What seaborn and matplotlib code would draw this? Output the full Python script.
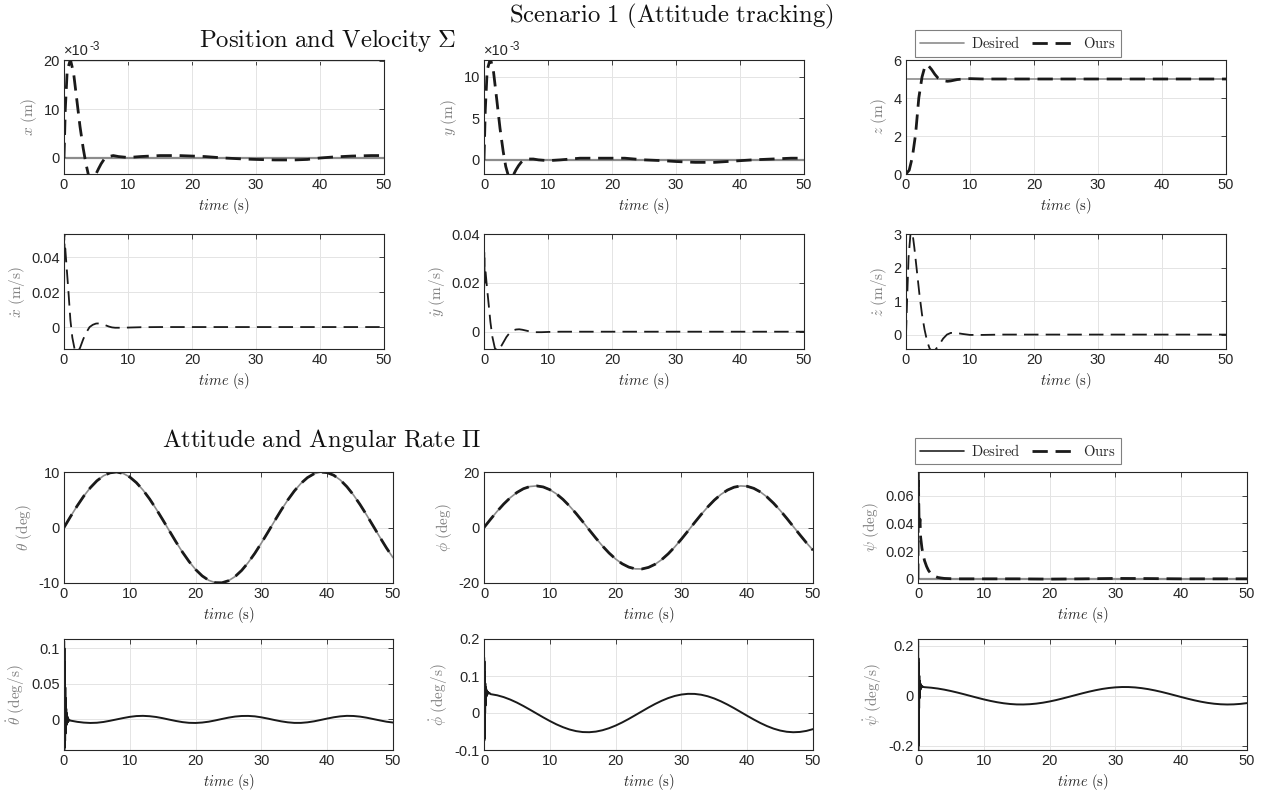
import matplotlib
matplotlib.use("Agg")
import matplotlib.pyplot as plt
from matplotlib.ticker import FuncFormatter
from matplotlib.lines import Line2D
import seaborn as sns

# ---------------- data ----------------
time_ticks = [0, 10, 20, 30, 40, 50]
t_const = [0, 50]

# Position
t_xy = [0, 0.2, 0.5, 1.0, 1.5, 2.0, 2.5, 3.0, 3.4, 3.8, 4.2, 4.6, 5.0, 5.4, 5.8, 6.3, 7.0, 7.7,
        8.5, 10, 12, 15, 18, 20, 22, 25, 28, 30, 33, 36, 38, 40, 42, 45, 48, 50]
x_des = [0, 0]
x_ours = [0, 0.010, 0.018, 0.0203, 0.0175, 0.012, 0.0065, 0.002, -0.0010, -0.0034, -0.0045, -0.0042,
          -0.0033, -0.0022, -0.0012, -0.0002, 0.0003, 0.0005, 0.0003, 0.0001, 0.0003, 0.0005, 0.0005,
          0.0004, 0.0003, 0.0000, -0.0002, -0.0003, -0.0004, -0.0004, -0.0003, 0.0000, 0.0002, 0.0004,
          0.0005, 0.0005]
y_des = [0, 0]
y_ours = [0, 0.006, 0.0108, 0.0122, 0.0105, 0.0072, 0.0038, 0.0010, -0.0008, -0.0019, -0.0023, -0.0018,
          -0.0012, -0.0007, -0.0003, 0.0000, 0.0001, 0.0001, 0.0000, -0.0001, 0.0000, 0.0002, 0.0002,
          0.0002, 0.0002, 0.0000, -0.0001, -0.0002, -0.0003, -0.0003, -0.0002, -0.0001, 0.0000, 0.0001,
          0.0002, 0.0002]
t_z = [0, 0.5, 1.0, 1.5, 2.0, 2.5, 3.0, 3.5, 4.0, 4.5, 5.0, 5.5, 6.0, 6.5, 7.0, 8.0, 9.0, 10, 12, 15,
       20, 25, 30, 35, 40, 45, 50]
z_des = [5, 5]
z_ours = [0, 0.2, 0.9, 2.1, 4.0, 5.1, 5.72, 5.7, 5.5, 5.25, 5.05, 4.95, 4.9, 4.88, 4.9, 4.97, 5.0, 5.02,
          5.0, 5.0, 5.0, 5.0, 5.0, 5.0, 5.0, 5.0, 5.0]

# Velocity
t_vel = [0, 0.05, 0.1, 0.2, 0.4, 0.7, 1.0, 1.3, 1.7, 2.1, 2.5, 3.0, 3.5, 4.0, 4.5, 5.0, 5.5, 6.0, 6.5,
         7.0, 7.5, 8.0, 9.0, 10, 12, 15, 20, 25, 30, 35, 40, 45, 50]
xdot_ours = [0, 0.055, 0.04, 0.045, 0.035, 0.02, 0.004, -0.006, -0.0135, -0.0145, -0.012, -0.007, -0.003,
             0.0000, 0.0013, 0.0020, 0.0021, 0.0017, 0.0010, 0.0003, -0.0002, -0.0004, -0.0004, -0.0003,
             -0.0001, 0, 0, 0, 0, 0, 0, 0, 0]
ydot_ours = [0, 0.033, 0.02, 0.026, 0.02, 0.012, 0.004, -0.002, -0.0068, -0.0078, -0.0068, -0.0045,
             -0.0022, -0.0005, 0.0005, 0.0009, 0.0010, 0.0008, 0.0005, 0.0002, -0.0001, -0.0002, -0.0002,
             -0.0001, 0, 0, 0, 0, 0, 0, 0, 0, 0]
t_zd = [0, 0.2, 0.4, 0.7, 1.0, 1.3, 1.7, 2.1, 2.5, 2.9, 3.3, 3.7, 4.1, 4.6, 5.2, 5.8, 6.4, 7.0, 7.8, 8.8,
        10, 12, 15, 20, 30, 40, 50]
zdot_ours = [0, 1.2, 2.3, 3.0, 3.05, 2.6, 1.9, 1.2, 0.6, 0.15, -0.2, -0.42, -0.5, -0.45, -0.3, -0.12, 0.0,
             0.05, 0.05, 0.02, -0.01, -0.01, 0, 0, 0, 0, 0]

# Attitude (deg), sampled every second
t_att = list(range(0, 51))
theta_des = [0, 1.99, 3.89, 5.65, 7.17, 8.41, 9.32, 9.85, 10.0, 9.74, 9.09, 8.08, 6.76, 5.16, 3.35, 1.41,
             -0.58, -2.56, -4.43, -6.12, -7.57, -8.72, -9.52, -9.94, -9.96, -9.59, -8.84, -7.73, -6.31,
             -4.65, -2.79, -0.83, 1.17, 3.12, 4.94, 6.57, 7.94, 8.99, 9.68, 9.99, 9.89, 9.41, 8.55, 7.34,
             5.85, 4.12, 2.23, 0.25, -1.74, -3.67, -5.44]
theta_ours = [0, 1.99, 3.89, 5.65, 7.17, 8.41, 9.32, 9.85, 10.0, 9.74, 9.09, 8.08, 6.76, 5.16, 3.35, 1.41,
              -0.58, -2.56, -4.43, -6.12, -7.57, -8.72, -9.52, -9.94, -9.96, -9.59, -8.84, -7.73, -6.31,
              -4.65, -2.79, -0.83, 1.17, 3.12, 4.94, 6.57, 7.94, 8.99, 9.68, 9.99, 9.89, 9.41, 8.55, 7.34,
              5.85, 4.12, 2.23, 0.25, -1.74, -3.67, -5.44]
phi_des = [0, 2.98, 5.84, 8.47, 10.76, 12.62, 13.98, 14.78, 14.99, 14.61, 13.64, 12.13, 10.13, 7.73, 5.03,
           2.12, -0.88, -3.83, -6.64, -9.18, -11.35, -13.07, -14.27, -14.91, -14.94, -14.38, -13.25,
           -11.59, -9.47, -6.97, -4.19, -1.25, 1.75, 4.67, 7.41, 9.86, 11.91, 13.48, 14.52, 14.98, 14.84,
           14.11, 12.82, 11.02, 8.77, 6.18, 3.34, 0.37, -2.61, -5.50, -8.16]
phi_ours = [0, 2.98, 5.84, 8.47, 10.76, 12.62, 13.98, 14.78, 14.99, 14.61, 13.64, 12.13, 10.13, 7.73, 5.03,
            2.12, -0.88, -3.83, -6.64, -9.18, -11.35, -13.07, -14.27, -14.91, -14.94, -14.38, -13.25,
            -11.59, -9.47, -6.97, -4.19, -1.25, 1.75, 4.67, 7.41, 9.86, 11.91, 13.48, 14.52, 14.98, 14.84,
            14.11, 12.82, 11.02, 8.77, 6.18, 3.34, 0.37, -2.61, -5.50, -8.16]
t_psi = [0, 0.05, 0.1, 0.15, 0.2, 0.3, 0.4, 0.6, 0.8, 1.0, 1.3, 1.6, 2.0, 2.5, 3.0, 3.5, 4, 5, 6, 8, 10,
         15, 20, 25, 30, 35, 40, 45, 50]
psi_des = [0, 0]
psi_ours = [0, 0.077, 0.06, 0.045, 0.038, 0.043, 0.03, 0.022, 0.017, 0.013, 0.009, 0.006, 0.0035, 0.002,
            0.001, 0.0006, 0.0003, 0.0001, 0, 0, 0, 0, -0.0002, 0, 0.0003, 0.0002, 0, 0, 0]

# Angular rates (deg/s): start-up transient then one sample per second
t_rate = [0.0, 0.02, 0.04, 0.06, 0.08, 0.10, 0.12, 0.14, 0.17, 0.20, 0.23, 0.26, 0.30, 0.34, 0.38, 0.42,
          0.47, 0.52, 0.58, 0.65, 0.75, 0.85] + list(range(1, 51))
thetadot = [0, 0.11, -0.043, 0.10, -0.04, 0.08, -0.035, 0.05, -0.03, 0.045, -0.02, 0.03, -0.012, 0.015,
            -0.008, 0.009, -0.005, 0.004, -0.004, 0.001, -0.002, -0.001,
            -0.0017, -0.0034, -0.0045, -0.0050, -0.0047, -0.0036, -0.0019, 0.0000, 0.0019, 0.0036, 0.0047,
            0.0050, 0.0045, 0.0034, 0.0017, -0.0003, -0.0022, -0.0038, -0.0048, -0.0050, -0.0044, -0.0032,
            -0.0014, 0.0006, 0.0025, 0.0040, 0.0048, 0.0049, 0.0043, 0.0029, 0.0011, -0.0009, -0.0027,
            -0.0041, -0.0049, -0.0049, -0.0041, -0.0027, -0.0008, 0.0012, 0.0030, 0.0043, 0.0050, 0.0048,
            0.0039, 0.0024, 0.0005, -0.0014, -0.0032, -0.0044]
phidot = [0, 0.15, -0.075, 0.14, -0.07, 0.11, -0.03, 0.10, 0.0, 0.08, 0.02, 0.07, 0.035, 0.065, 0.045,
          0.06, 0.05, 0.058, 0.052, 0.056, 0.053, 0.054,
          0.0510, 0.0479, 0.0429, 0.0362, 0.0281, 0.0188, 0.0088, -0.0015, -0.0118, -0.0216, -0.0306,
          -0.0383, -0.0446, -0.0490, -0.0515, -0.0519, -0.0503, -0.0466, -0.0411, -0.0340, -0.0255,
          -0.0160, -0.0058, 0.0045, 0.0148, 0.0244, 0.0330, 0.0404, 0.0461, 0.0499, 0.0518, 0.0516,
          0.0494, 0.0452, 0.0392, 0.0316, 0.0228, 0.0131, 0.0028, -0.0076, -0.0176, -0.0270, -0.0353,
          -0.0422, -0.0474, -0.0507, -0.0520, -0.0512, -0.0484, -0.0436]
psidot = [0, 0.22, -0.217, 0.15, -0.20, 0.13, -0.10, 0.10, -0.05, 0.08, -0.01, 0.06, 0.01, 0.05, 0.025,
          0.045, 0.03, 0.04, 0.035, 0.038, 0.036, 0.035,
          0.0343, 0.0322, 0.0289, 0.0244, 0.0189, 0.0127, 0.0060, -0.0010, -0.0079, -0.0146, -0.0206,
          -0.0258, -0.0300, -0.0330, -0.0347, -0.0349, -0.0338, -0.0314, -0.0277, -0.0229, -0.0172,
          -0.0107, -0.0039, 0.0030, 0.0099, 0.0164, 0.0222, 0.0272, 0.0310, 0.0336, 0.0349, 0.0348,
          0.0333, 0.0304, 0.0264, 0.0213, 0.0154, 0.0088, 0.0019, -0.0051, -0.0119, -0.0182, -0.0238,
          -0.0284, -0.0319, -0.0341, -0.0350, -0.0344, -0.0326, -0.0294]

# ---------------- style ----------------
sns.set_theme(style="white")
plt.rcParams["font.family"] = ["Liberation Sans", "DejaVu Sans"]
plt.rcParams["mathtext.fontset"] = "cm"
plt.rcParams["axes.unicode_minus"] = False

W, H = 1266, 798
fig = plt.figure(figsize=(W / 100, H / 100), dpi=100)
fig.patch.set_facecolor("white")

DARK = "#262626"
DES_C = "#8c8c8c"


def rect(l, r, top, bot):
    return [l / W, 1 - bot / H, (r - l) / W, (bot - top) / H]


def fmt_g(v, p):
    return f"{v:g}"


def style_axis(ax, ylim, yticks, ylabel, yfmt=fmt_g):
    ax.set_xlim(0, 50)
    ax.set_ylim(*ylim)
    ax.set_xticks(time_ticks)
    ax.set_yticks(yticks)
    ax.xaxis.set_major_formatter(FuncFormatter(fmt_g))
    ax.yaxis.set_major_formatter(FuncFormatter(yfmt))
    ax.set_xlabel(r"$time\ \mathrm{(s)}$", fontsize=10.5, color=DARK, labelpad=2.5)
    ax.set_ylabel(ylabel, fontsize=11, color="#808080", labelpad=3)
    ax.tick_params(direction="in", top=True, right=True, length=3.5, width=0.6,
                   colors=DARK, labelsize=10.5, pad=3)
    ax.grid(True, color="#e4e4e4", lw=0.7)
    ax.set_axisbelow(True)
    for s in ax.spines.values():
        s.set_color(DARK)
        s.set_linewidth(0.8)
        s.set_visible(True)


def draw(ax, t, v, color="k", lw=1.2, dashes=None):
    sns.lineplot(x=t, y=v, ax=ax, color=color, linewidth=lw, estimator=None, sort=False, legend=False)
    line = ax.lines[-1]
    if dashes is not None:
        line.set_dashes(dashes)
    return line


def exp_label(ax):
    ax.text(0.0, 1.015, "×10", transform=ax.transAxes, fontsize=10.5, color=DARK, ha="left", va="bottom")
    ax.text(0.08, 1.06, "-3", transform=ax.transAxes, fontsize=8.5, color=DARK, ha="left", va="bottom")


# Row 1: positions
ax_x = fig.add_axes(rect(64, 384, 60, 174))
draw(ax_x, t_const, x_des, DES_C, 1.6)
draw(ax_x, t_xy, x_ours, "k", 2.0, (5.5, 2.8))
style_axis(ax_x, (-0.0033, 0.0202), [0, 0.01, 0.02], r"$x\ \mathrm{(m)}$", lambda v, p: f"{v*1e3:g}")
exp_label(ax_x)

ax_y = fig.add_axes(rect(484, 804, 60, 174))
draw(ax_y, t_const, y_des, DES_C, 1.6)
draw(ax_y, t_xy, y_ours, "k", 2.0, (5.5, 2.8))
style_axis(ax_y, (-0.0017, 0.012), [0, 0.005, 0.01], r"$y\ \mathrm{(m)}$", lambda v, p: f"{v*1e3:g}")
exp_label(ax_y)

ax_z = fig.add_axes(rect(906, 1226, 60, 174))
l_des1 = draw(ax_z, t_const, z_des, DES_C, 1.2)
l_ours1 = draw(ax_z, t_z, z_ours, "k", 2.0, (5.5, 2.8))
style_axis(ax_z, (0, 6), [0, 2, 4, 6], r"$z\ \mathrm{(m)}$")

# Row 2: velocities
ax_xd = fig.add_axes(rect(64, 384, 234, 349))
draw(ax_xd, t_vel, xdot_ours, "k", 1.3, (8, 4))
style_axis(ax_xd, (-0.0126, 0.0534), [0, 0.02, 0.04], r"$\dot{x}\ \mathrm{(m/s)}$")

ax_yd = fig.add_axes(rect(484, 804, 234, 349))
draw(ax_yd, t_vel, ydot_ours, "k", 1.3, (8, 4))
style_axis(ax_yd, (-0.0071, 0.0401), [0, 0.02, 0.04], r"$\dot{y}\ \mathrm{(m/s)}$")

ax_zd = fig.add_axes(rect(906, 1226, 234, 349))
draw(ax_zd, t_zd, zdot_ours, "k", 1.3, (8, 4))
style_axis(ax_zd, (-0.43, 3.0), [0, 1, 2, 3], r"$\dot{z}\ \mathrm{(m/s)}$")

# Row 3: attitude
ax_th = fig.add_axes(rect(64, 393, 472, 583))
draw(ax_th, t_att, theta_des, DES_C, 1.2)
draw(ax_th, t_att, theta_ours, "k", 2.0, (5.5, 2.8))
style_axis(ax_th, (-10, 10), [-10, 0, 10], r"$\theta\ \mathrm{(deg)}$")

ax_ph = fig.add_axes(rect(484, 813, 472, 583))
draw(ax_ph, t_att, phi_des, DES_C, 1.2)
draw(ax_ph, t_att, phi_ours, "k", 2.0, (5.5, 2.8))
style_axis(ax_ph, (-20, 20), [-20, 0, 20], r"$\phi\ \mathrm{(deg)}$")

ax_ps = fig.add_axes(rect(918, 1247, 472, 583))
draw(ax_ps, t_const, psi_des, DES_C, 1.6)
draw(ax_ps, t_psi, psi_ours, "k", 2.0, (5.5, 2.8))
style_axis(ax_ps, (-0.003, 0.077), [0, 0.02, 0.04, 0.06], r"$\psi\ \mathrm{(deg)}$")

# Row 4: angular rates
ax_thd = fig.add_axes(rect(64, 393, 639, 750))
draw(ax_thd, t_rate, thetadot, "k", 1.4)
style_axis(ax_thd, (-0.043, 0.113), [0, 0.05, 0.1], r"$\dot{\theta}\ \mathrm{(deg/s)}$")

ax_phd = fig.add_axes(rect(484, 813, 639, 750))
draw(ax_phd, t_rate, phidot, "k", 1.4)
style_axis(ax_phd, (-0.1, 0.2), [-0.1, 0, 0.1, 0.2], r"$\dot{\phi}\ \mathrm{(deg/s)}$")

ax_psd = fig.add_axes(rect(918, 1247, 639, 750))
draw(ax_psd, t_rate, psidot, "k", 1.4)
style_axis(ax_psd, (-0.217, 0.227), [-0.2, 0, 0.2], r"$\dot{\psi}\ \mathrm{(deg/s)}$")

# Titles
fig.text(671 / W, 1 - 16 / H, r"$\mathrm{Scenario\ 1\ (Attitude\ tracking)}$", fontsize=17.8,
         ha="center", va="center", color="#111111")
fig.text(328 / W, 1 - 40 / H, r"$\mathrm{Position\ and\ Velocity}\ \Sigma$", fontsize=17.8,
         ha="center", va="center", color="#111111")
fig.text(322 / W, 1 - 440 / H, r"$\mathrm{Attitude\ and\ Angular\ Rate}\ \Pi$", fontsize=17.8,
         ha="center", va="center", color="#111111")

# Legends
leg_kw = dict(ncol=2, loc="center", frameon=True, fancybox=False, framealpha=1, edgecolor="#808080",
              fontsize=10.5, handlelength=3.0, handletextpad=0.5, columnspacing=0.8, borderpad=0.35,
              borderaxespad=0)
leg1 = fig.legend([l_des1, l_ours1], [r"$\mathrm{Desired}$", r"$\mathrm{Ours}$"],
                  bbox_to_anchor=(1018 / W, 1 - 43.5 / H), **leg_kw)
leg1.get_frame().set_linewidth(0.8)
h_des2 = Line2D([], [], color="#222222", lw=1.2)
h_ours2 = Line2D([], [], color="k", lw=2.0, dashes=(5.5, 2.8))
leg2 = fig.legend([h_des2, h_ours2], [r"$\mathrm{Desired}$", r"$\mathrm{Ours}$"],
                  bbox_to_anchor=(1018 / W, 1 - 451 / H), **leg_kw)
leg2.get_frame().set_linewidth(0.8)

fig.savefig("out.png", dpi=100, facecolor="white")
